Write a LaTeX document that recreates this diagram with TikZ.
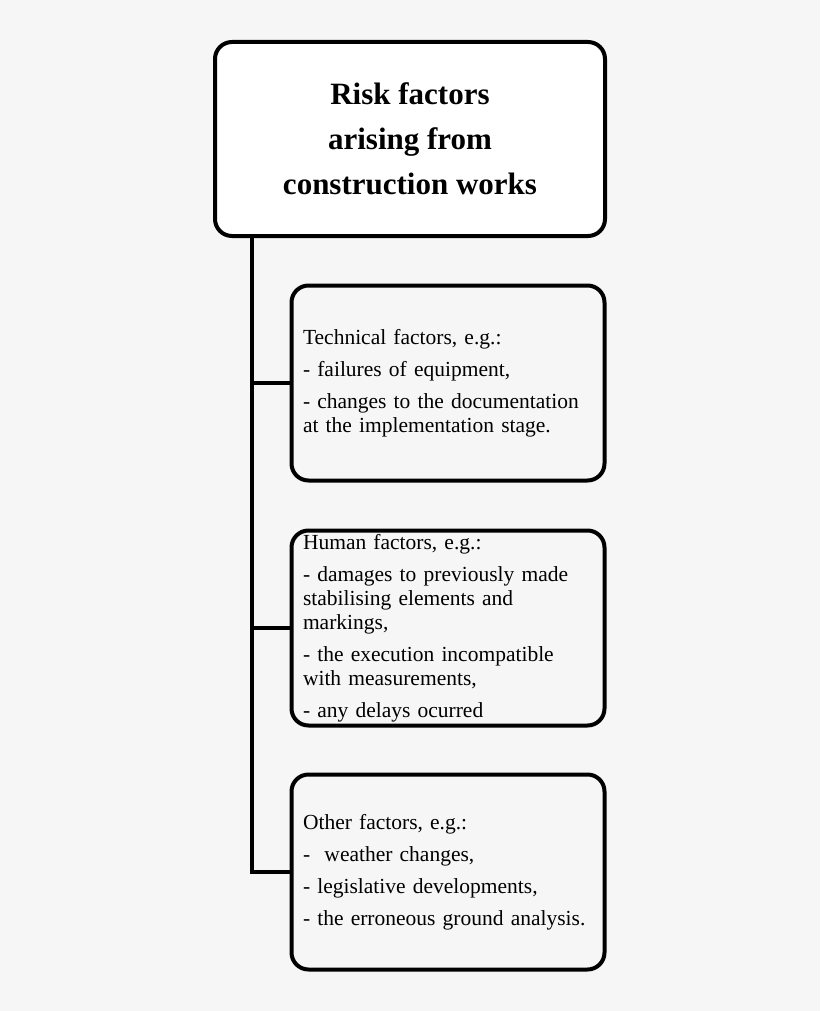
\documentclass[tikz,border=0pt]{standalone}
\usepackage{fontspec}
\setmainfont{Liberation Serif}
\usepackage{tikz}
\usetikzlibrary{positioning}

\begin{document}
\begin{tikzpicture}[x=1pt,y=1pt,
    mainbox/.style={draw=black,line width=4pt,rounded corners=17pt,fill=white,
        minimum width=390pt,minimum height=194pt,align=center,
        font=\fontsize{31}{45}\selectfont\bfseries},
    factorbox/.style={draw=black,line width=4pt,rounded corners=17pt,fill=bgcol,
        minimum width=313pt,minimum height=195pt,text width=290pt,align=left,
        font=\fontsize{21.5}{24}\selectfont},
    branch/.style={line width=4pt}]
    \definecolor{bgcol}{HTML}{F6F6F6}
    \fill[bgcol] (0,0) rectangle (820,-1011);
    \useasboundingbox (0,0) rectangle (820,-1011);

    \node[mainbox] (risk) at (410,-139) {Risk factors\\arising from\\construction works};

    \node[factorbox] (tech) at (448,-383) {Technical factors, e.g.:\\[8pt]
        - failures of equipment,\\[8pt]
        - changes to the documentation\\at the implementation stage.};
    \node[factorbox] (human) at (448,-628) {Human factors, e.g.:\\[8pt]
        - damages to previously made\\stabilising elements and\\markings,\\[8pt]
        - the execution incompatible\\with measurements,\\[8pt]
        - any delays ocurred};
    \node[factorbox] (other) at (448,-872) {Other factors, e.g.:\\[8pt]
        -\ \ weather changes,\\[8pt]
        - legislative developments,\\[8pt]
        - the erroneous ground analysis.};

    \coordinate (trunk) at ([xshift=-38pt]tech.west |- risk.south);
    \draw[branch] (trunk) |- (other.west);
    \draw[branch] (trunk |- tech.west) -- (tech.west);
    \draw[branch] (trunk |- human.west) -- (human.west);
\end{tikzpicture}
\end{document}
